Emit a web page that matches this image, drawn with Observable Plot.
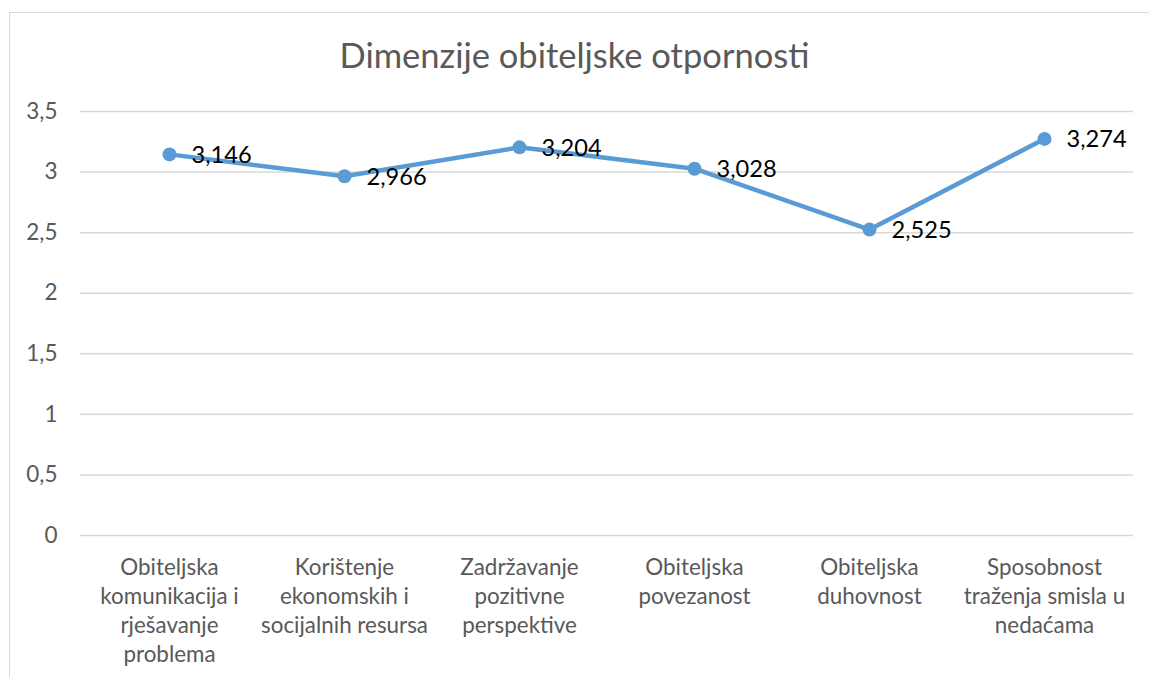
<!DOCTYPE html>
<html>
<head>
<meta charset="utf-8">
<script src="https://cdn.jsdelivr.net/npm/d3@7"></script>
<script src="https://cdn.jsdelivr.net/npm/@observablehq/plot@0.6"></script>
<style>
  html, body { margin: 0; padding: 0; background: #fff; overflow: hidden; }
  #wrap { position: relative; width: 1149px; height: 677px; font-family: Lato, sans-serif; }
  #frame { position: absolute; left: 9px; top: 12px; width: 1300px; height: 800px; border: 1px solid #d9d9d9; box-sizing: border-box; }
  #title { position: absolute; left: 0; top: 0; width: 1149px; height: 80px; box-sizing: border-box; padding-top: 37px; line-height: 36px; text-align: center; font-size: 34.5px; color: #595959; white-space: nowrap; }
  #chart { position: absolute; left: 0; top: 80px; }
</style>
</head>
<body>
<div id="wrap">
  <div id="frame"></div>
  <div id="title">Dimenzije obiteljske otpornosti</div>
  <div id="chart"></div>
</div>
<script>
const categories = [
  "Obiteljska komunikacija i rješavanje problema",
  "Korištenje ekonomskih i socijalnih resursa",
  "Zadržavanje pozitivne perspektive",
  "Obiteljska povezanost",
  "Obiteljska duhovnost",
  "Sposobnost traženja smisla u nedaćama"
];
const categoryLines = [
  "Obiteljska\nkomunikacija i\nrješavanje\nproblema",
  "Korištenje\nekonomskih i\nsocijalnih resursa",
  "Zadržavanje\npozitivne\nperspektive",
  "Obiteljska\npovezanost",
  "Obiteljska\nduhovnost",
  "Sposobnost\ntraženja smisla u\nnedaćama"
];
const values = [3.146, 2.966, 3.204, 3.028, 2.525, 3.274];
const valueLabels = ["3,146", "2,966", "3,204", "3,028", "2,525", "3,274"];
const yTicks = [0, 0.5, 1, 1.5, 2, 2.5, 3, 3.5];
const yTickLabels = ["0", "0,5", "1", "1,5", "2", "2,5", "3", "3,5"];

const data = categories.map((c, i) => ({cat: c, value: values[i], label: valueLabels[i]}));
const lineMap = new Map(categories.map((c, i) => [c, categoryLines[i]]));
const yLabMap = new Map(yTicks.map((t, i) => [t, yTickLabels[i]]));

const chart = Plot.plot({
  width: 1149,
  height: 597,
  marginLeft: 80,
  marginRight: 16,
  marginTop: 31,
  marginBottom: 142,
  style: {fontFamily: "Lato, sans-serif", background: "transparent", overflow: "visible"},
  x: {type: "point", domain: categories, padding: 0.5},
  y: {domain: [0, 3.5]},
  marks: [
    Plot.gridY(yTicks, {stroke: "#d9d9d9", strokeOpacity: 1, strokeWidth: 1.5}),
    Plot.axisY(yTicks, {tickSize: 0, tickPadding: 23, fontSize: 22.5, fill: "#595959", tickFormat: d => yLabMap.get(d), label: null}),
    Plot.axisX({tickSize: 0, tickPadding: 19, fontSize: 22.4, fill: "#595959", lineHeight: 1.29, tickFormat: d => lineMap.get(d), label: null}),
    Plot.line(data, {x: "cat", y: "value", stroke: "#5b9bd5", strokeWidth: 4.5}),
    Plot.dot(data, {x: "cat", y: "value", r: 7, fill: "#5b9bd5", stroke: "none"}),
    Plot.text(data, {x: "cat", y: "value", text: "label", textAnchor: "start", dx: 22, dy: 1, fontSize: 23.6, fill: "#000"})
  ]
});
document.getElementById("chart").appendChild(chart);
</script>
</body>
</html>
